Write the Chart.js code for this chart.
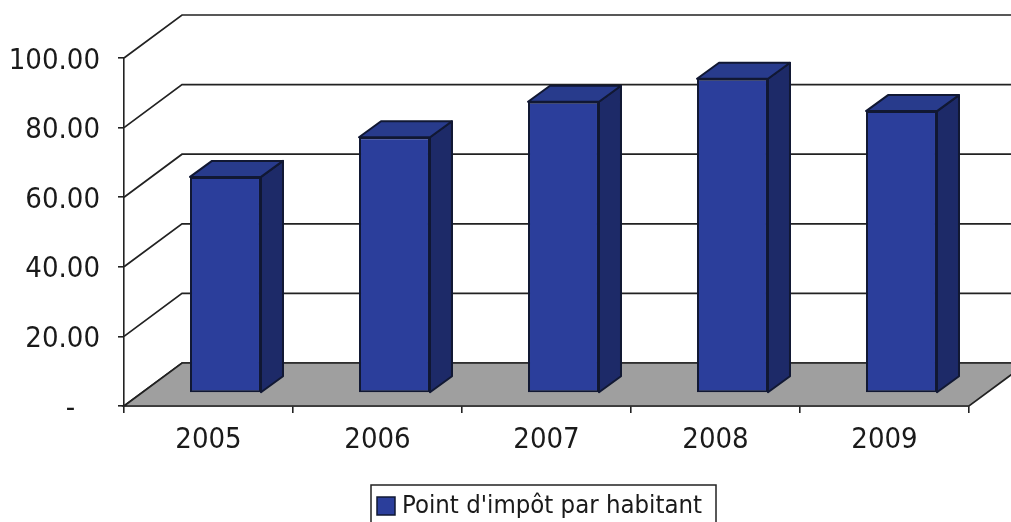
<!DOCTYPE html>
<html>
<head>
<meta charset="utf-8">
<script src="https://cdn.jsdelivr.net/npm/chart.js@4/dist/chart.umd.min.js"></script>
<style>
  html, body { margin: 0; padding: 0; background: #fff; }
  canvas { display: block; }
</style>
</head>
<body>
<canvas id="chart" width="1011" height="522"></canvas>
<script>
// données
const annees = ['2005', '2006', '2007', '2008', '2009'];
const pointImpot = [62.1, 73.5, 83.7, 90.3, 81.0];
const graduations = [0, 20, 40, 60, 80, 100];
const libelleSerie = "Point d'impôt par habitant";

const POLICE = "'DejaVu Sans Condensed', 'DejaVu Sans', sans-serif";

// profondeur du graphique 3D (mur du fond / position des barres / épaisseur des barres)
const MUR = { dx: 58, dy: 43 };
const DECALAGE = { dx: 17, dy: 13 };
const EPAISSEUR = { dx: 22, dy: 16 };

const pseudo3d = {
    id: 'pseudo3d',
    beforeDatasetsDraw(chart) {
        const { ctx, chartArea: a, scales: { y } } = chart;
        const w = chart.width;
        ctx.save();
        ctx.strokeStyle = '#222';
        ctx.lineWidth = 1.7;
        // lignes du mur du fond
        graduations.forEach(v => {
            const py = y.getPixelForValue(v);
            ctx.beginPath();
            ctx.moveTo(a.left, py);
            ctx.lineTo(a.left + MUR.dx, py - MUR.dy);
            ctx.lineTo(w + 5, py - MUR.dy);
            ctx.stroke();
        });
        // plancher
        const y0 = y.getPixelForValue(0);
        ctx.beginPath();
        ctx.moveTo(a.left, y0);
        ctx.lineTo(a.left + MUR.dx, y0 - MUR.dy);
        ctx.lineTo(a.right + MUR.dx, y0 - MUR.dy);
        ctx.lineTo(a.right, y0);
        ctx.closePath();
        ctx.fillStyle = '#9f9f9f';
        ctx.fill();
        ctx.stroke();
        ctx.restore();

        // faces du dessus et de côté des barres
        ctx.save();
        ctx.translate(DECALAGE.dx, -DECALAGE.dy);
        ctx.lineWidth = 2;
        ctx.strokeStyle = '#111833';
        ctx.lineJoin = 'round';
        chart.getDatasetMeta(0).data.forEach(b => {
            const l = b.x - b.width / 2, r = b.x + b.width / 2;
            const t = b.y, base = b.base;
            ctx.beginPath();
            ctx.moveTo(r, t);
            ctx.lineTo(r + EPAISSEUR.dx, t - EPAISSEUR.dy);
            ctx.lineTo(r + EPAISSEUR.dx, base - EPAISSEUR.dy);
            ctx.lineTo(r, base);
            ctx.closePath();
            ctx.fillStyle = '#1d2a68';
            ctx.fill();
            ctx.stroke();
            ctx.beginPath();
            ctx.moveTo(l, t);
            ctx.lineTo(l + EPAISSEUR.dx, t - EPAISSEUR.dy);
            ctx.lineTo(r + EPAISSEUR.dx, t - EPAISSEUR.dy);
            ctx.lineTo(r, t);
            ctx.closePath();
            ctx.fillStyle = '#283b8c';
            ctx.fill();
            ctx.stroke();
        });
        // la face avant est dessinée par Chart.js dans ce repère décalé
    },
    afterDatasetsDraw(chart) {
        chart.ctx.restore();
    },
    afterDraw(chart) {
        // légende encadrée
        const ctx = chart.ctx;
        ctx.save();
        ctx.strokeStyle = '#222';
        ctx.lineWidth = 1.5;
        ctx.strokeRect(371, 485, 345, 45);
        ctx.fillStyle = '#2b3e9b';
        ctx.fillRect(377, 497, 18, 18);
        ctx.strokeStyle = '#111833';
        ctx.lineWidth = 1.5;
        ctx.strokeRect(377, 497, 18, 18);
        ctx.fillStyle = '#1a1a1a';
        ctx.font = '25.5px ' + POLICE;
        ctx.textBaseline = 'middle';
        ctx.fillText(libelleSerie, 402, 506);
        ctx.restore();
    }
};

const chart = new Chart(document.getElementById('chart'), {
    type: 'bar',
    data: {
        labels: annees,
        datasets: [{
            label: libelleSerie,
            data: pointImpot,
            backgroundColor: '#2b3e9b',
            borderColor: '#111833',
            borderWidth: 2,
            borderSkipped: false,
            categoryPercentage: 1,
            barPercentage: 0.42,
            clip: false
        }]
    },
    options: {
        responsive: false,
        animation: false,
        layout: { padding: { top: 58, right: 42, left: 0, bottom: 0 } },
        plugins: {
            legend: { display: false },
            tooltip: { enabled: false }
        },
        scales: {
            x: {
                afterFit: s => { s.height = 116; },
                grid: { drawOnChartArea: false, tickLength: 7, color: '#222', lineWidth: 1.6, offset: true },
                border: { color: '#222', width: 1.6 },
                ticks: { color: '#1a1a1a', font: { family: POLICE, size: 29 }, padding: 10 }
            },
            y: {
                min: 0,
                max: 100,
                afterFit: s => { s.width = 124; },
                grid: { drawOnChartArea: false, tickLength: 6, color: '#222', lineWidth: 1.6 },
                border: { color: '#222', width: 1.6 },
                ticks: {
                    stepSize: 20,
                    color: '#1a1a1a',
                    font: { family: POLICE, size: 29 },
                    padding: 18,
                    labelOffset: 3,
                    callback: v => v === 0 ? '-   ' : v.toFixed(2)
                }
            }
        }
    },
    plugins: [pseudo3d]
});
</script>
</body>
</html>
